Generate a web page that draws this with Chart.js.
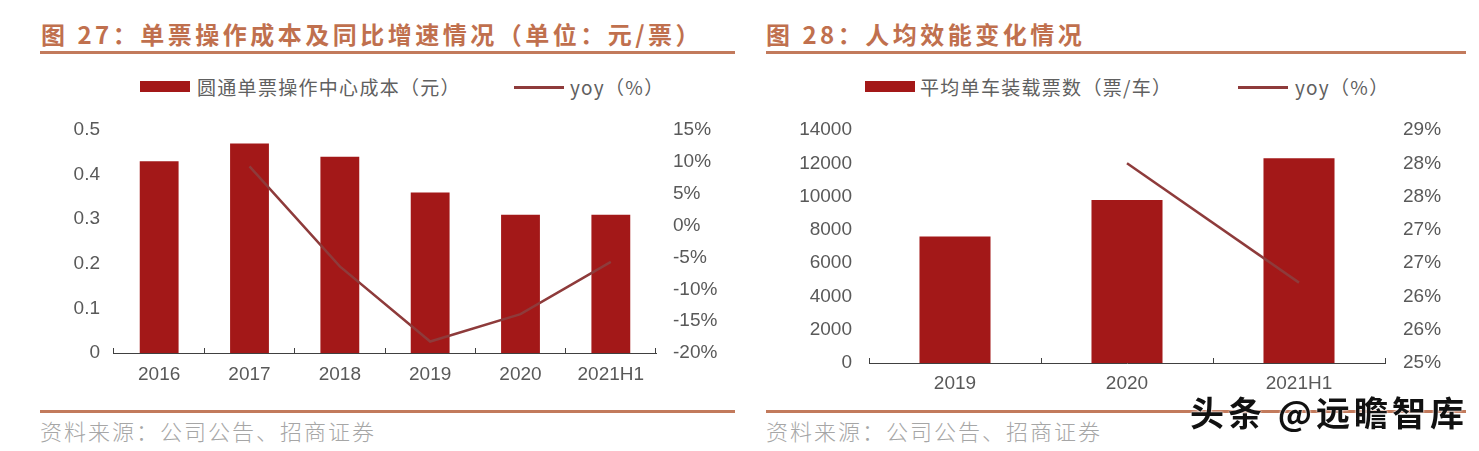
<!DOCTYPE html>
<html>
<head>
<meta charset="utf-8">
<script src="https://cdn.jsdelivr.net/npm/chart.js@4.4.1/dist/chart.umd.min.js"></script>
<style>
  html, body { margin: 0; padding: 0; background: #ffffff; }
  body { width: 1479px; height: 451px; position: relative; overflow: hidden; font-family: "Noto Sans CJK SC", sans-serif; }
  .title { position: absolute; top: 20px; height: 28px; line-height: 28px; font-size: 24px; font-weight: bold; color: #c0704e; letter-spacing: 3.5px; white-space: nowrap; }
  .rule { position: absolute; height: 3px; background: #c27a5c; }
  .legend-text { position: absolute; top: 75px; height: 24px; line-height: 24px; font-size: 19px; color: #606060; letter-spacing: 1.3px; white-space: nowrap; }
  .legend-rect { position: absolute; top: 81px; width: 50px; height: 11px; background: #a31818; }
  .legend-line { position: absolute; top: 86px; width: 50px; height: 2.5px; background: #8e3b3b; }
  .source { position: absolute; top: 416px; height: 28px; line-height: 28px; font-size: 22px; color: #a6a6a6; letter-spacing: 2px; white-space: nowrap; font-weight: 300; }
  canvas { position: absolute; }
  .wm { position: absolute; left: 1190px; top: 392px; height: 40px; line-height: 40px; font-size: 34px; font-weight: bold; color: #111111; letter-spacing: 4px; white-space: nowrap; text-shadow: 0 0 2px #fff, 0 0 2px #fff; }
</style>
</head>
<body>
<div class="title" style="left:41px;">图 27：单票操作成本及同比增速情况（单位：元/票）</div>
<div class="rule" style="left:40px; width:695px; top:51px;"></div>
<div class="title" style="left:766px;">图 28：人均效能变化情况</div>
<div class="rule" style="left:766px; width:700px; top:51px;"></div>

<div class="legend-rect" style="left:140px;"></div>
<div class="legend-text" style="left:197px;">圆通单票操作中心成本（元）</div>
<div class="legend-line" style="left:514px;"></div>
<div class="legend-text" style="left:570px;">yoy（%）</div>

<div class="legend-rect" style="left:865px;"></div>
<div class="legend-text" style="left:920px;">平均单车装载票数（票/车）</div>
<div class="legend-line" style="left:1238px;"></div>
<div class="legend-text" style="left:1295px;">yoy（%）</div>

<canvas id="c1" width="700" height="300" style="left:40px; top:100px;"></canvas>
<canvas id="c2" width="719" height="300" style="left:760px; top:100px;"></canvas>

<div class="rule" style="left:40px; width:695px; top:410px;"></div>
<div class="rule" style="left:766px; width:700px; top:410px;"></div>
<div class="source" style="left:40px;">资料来源：公司公告、招商证券</div>
<div class="source" style="left:766px;">资料来源：公司公告、招商证券</div>
<div class="wm">头条 @远瞻智库</div>

<script>
// ---- Chart 27 data ----
const categories1 = ['2016', '2017', '2018', '2019', '2020', '2021H1'];
const cost1 = [0.43, 0.47, 0.44, 0.36, 0.31, 0.31];
const yoy1 = [null, 9.3, -6.4, -18.2, -13.9, -5.7];
const leftTicks1 = ['0', '0.1', '0.2', '0.3', '0.4', '0.5'];
const rightTicks1 = ['-20%', '-15%', '-10%', '-5%', '0%', '5%', '10%', '15%'];

// ---- Chart 28 data ----
const categories2 = ['2019', '2020', '2021H1'];
const tickets2 = [7600, 9800, 12300];
const yoy2 = [null, 28.43, 26.38];
const leftTicks2 = ['0', '2000', '4000', '6000', '8000', '10000', '12000', '14000'];
const rightTicks2 = ['25%', '26%', '26%', '27%', '27%', '28%', '28%', '29%'];

const BAR = '#a31818';
const LINE = '#8e3b3b';
const AXIS = '#404040';
const TICKFONT = { family: "'Liberation Sans', Arial, sans-serif", size: 19 };
const TICKCOLOR = '#595959';

function makeChart(id, cats, bars, yoy, lt, rt, cfg) {
  return new Chart(document.getElementById(id), {
    data: {
      labels: cats,
      datasets: [
        { type: 'line', data: yoy, yAxisID: 'y1', borderColor: LINE, borderWidth: 2.5,
          pointRadius: 0, tension: 0, order: 0, fill: false },
        { type: 'bar', data: bars, yAxisID: 'y', backgroundColor: BAR,
          categoryPercentage: 1, barPercentage: cfg.barPct, order: 1 }
      ]
    },
    options: {
      responsive: false,
      animation: false,
      layout: { padding: { top: 30, left: 0, right: 0, bottom: 0 } },
      plugins: { legend: { display: false }, tooltip: { enabled: false } },
      scales: {
        x: {
          position: 'bottom',
          grid: { display: true, drawOnChartArea: false, drawTicks: true, tickLength: -5,
                  offset: true, color: AXIS, lineWidth: 1 },
          border: { display: true, color: AXIS, width: 1 },
          ticks: { font: TICKFONT, color: TICKCOLOR, padding: cfg.xPad, maxRotation: 0, autoSkip: false },
          afterFit: s => { s.height = cfg.xH; }
        },
        y: {
          position: 'left', min: cfg.yMin, max: cfg.yMax, ticks: {
            stepSize: cfg.yStep, font: TICKFONT, color: TICKCOLOR, padding: cfg.yPad,
            callback: (v, i) => lt[i]
          },
          grid: { display: false, drawTicks: false },
          border: { display: false },
          afterFit: s => { s.width = cfg.yW; }
        },
        y1: {
          position: 'right', min: cfg.y1Min, max: cfg.y1Max, ticks: Object.assign({
            font: TICKFONT, color: TICKCOLOR, padding: cfg.y1Pad,
            callback: (v, i) => rt[i]
          }, cfg.y1TickExtra),
          grid: { display: false, drawTicks: false },
          border: { display: false },
          afterFit: s => { s.width = cfg.y1W; }
        }
      }
    }
  });
}

makeChart('c1', categories1, cost1, yoy1, leftTicks1, rightTicks1, {
  barPct: 0.43, xPad: 15, xH: 47, yMin: 0, yMax: 0.5, yStep: 0.1, yPad: 14, yW: 74,
  y1Min: -20, y1Max: 15, y1Pad: 17, y1W: 84, y1TickExtra: { stepSize: 5 }
});

makeChart('c2', categories2, tickets2, yoy2, leftTicks2, rightTicks2, {
  barPct: 0.413, xPad: 14, xH: 37, yMin: 0, yMax: 14000, yStep: 2000, yPad: 17, yW: 109,
  y1Min: 25, y1Max: 29, y1Pad: 18, y1W: 94, y1TickExtra: { count: 8 }
});
</script>
</body>
</html>
